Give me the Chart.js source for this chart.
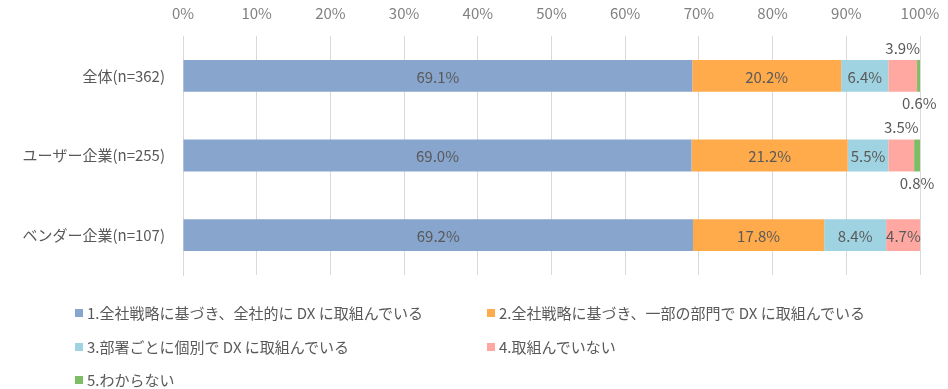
<!DOCTYPE html>
<html>
<head>
<meta charset="utf-8">
<script src="https://cdn.jsdelivr.net/npm/chart.js@4"></script>
<style>
  html, body { margin: 0; padding: 0; background: #fff; }
  body { width: 948px; height: 389px; overflow: hidden; font-family: "Noto Sans CJK JP", "Noto Sans", sans-serif; }
  #wrap { position: absolute; left: 0; top: 0; width: 948px; height: 290px; }
  #legend { position: absolute; left: 0; top: 0; width: 948px; height: 389px; color: #595959; font-size: 15px; }
  #legend .item { position: absolute; display: flex; align-items: center; white-space: nowrap; }
  #legend .box { width: 8px; height: 8px; margin-right: 4px; }
</style>
</head>
<body>
<div id="wrap"><canvas id="chart"></canvas></div>
<div id="legend"></div>
<script>
const categories = ['全体(n=362)', 'ユーザー企業(n=255)', 'ベンダー企業(n=107)'];
const seriesNames = [
  '1.全社戦略に基づき、全社的に DX に取組んでいる',
  '2.全社戦略に基づき、一部の部門で DX に取組んでいる',
  '3.部署ごとに個別で DX に取組んでいる',
  '4.取組んでいない',
  '5.わからない'
];
const seriesAll = [69.1, 69.0, 69.2];
const seriesPart = [20.2, 21.2, 17.8];
const seriesDept = [6.4, 5.5, 8.4];
const seriesNone = [3.9, 3.5, 4.7];
const seriesUnknown = [0.6, 0.8, 0];
const tickLabels = ['0%', '10%', '20%', '30%', '40%', '50%', '60%', '70%', '80%', '90%', '100%'];

const colors = ['#87A5CD', '#FFAB4C', '#9FD3E1', '#FFA8A1', '#7DBD63'];
const seriesValues = [seriesAll, seriesPart, seriesDept, seriesNone, seriesUnknown];

// Draw the value labels on / around each segment
const valueLabels = {
  id: 'valueLabels',
  afterDatasetsDraw(chart) {
    const ctx = chart.ctx;
    ctx.save();
    ctx.font = '15px "Noto Sans CJK JP", sans-serif';
    ctx.fillStyle = '#595959';
    ctx.textAlign = 'center';
    ctx.textBaseline = 'middle';
    chart.data.datasets.forEach((ds, di) => {
      const meta = chart.getDatasetMeta(di);
      meta.data.forEach((bar, i) => {
        const v = ds.data[i];
        if (!v) return;
        const p = bar.getProps(['x', 'y', 'base', 'height'], true);
        const cx = (p.x + p.base) / 2;
        const text = v.toFixed(1) + '%';
        if (v < 1) {
          // tiny segment: label below the bar
          ctx.fillText(text, cx, p.y + p.height / 2 + 12);
        } else if (v < 4.5) {
          // narrow segment: label above the bar
          ctx.fillText(text, cx, p.y - p.height / 2 - 12);
        } else {
          ctx.fillText(text, cx, p.y + 1);
        }
      });
    });
    ctx.restore();
  }
};

const chartCfg = {
  type: 'bar',
  data: {
    labels: categories,
    datasets: seriesNames.map((name, i) => ({
      label: name,
      data: seriesValues[i],
      backgroundColor: colors[i],
      borderWidth: 0,
      barPercentage: 0.4,
      categoryPercentage: 1.0
    }))
  },
  options: {
    indexAxis: 'y',
    responsive: false,
    animation: false,
    layout: { padding: 0 },
    plugins: {
      legend: { display: false },
      tooltip: { enabled: false }
    },
    scales: {
      x: {
        position: 'top',
        stacked: true,
        min: 0,
        max: 100,
        ticks: {
          stepSize: 10,
          padding: 14,
          color: '#808080',
          font: { size: 15, family: '"Noto Sans CJK JP", sans-serif' },
          callback: (v, i) => tickLabels[i]
        },
        grid: { color: '#D9D9D9', drawTicks: false },
        border: { display: false },
        afterFit: (scale) => {
          scale.height = 36;
          scale.paddingLeft = 0;
          scale.paddingRight = 28;
        }
      },
      y: {
        stacked: true,
        ticks: {
          padding: 10,
          color: '#595959',
          font: { size: 15, family: '"Noto Sans CJK JP", sans-serif' }
        },
        grid: { display: false },
        border: { color: '#D9D9D9' },
        afterFit: (scale) => {
          scale.width = 183;
          scale.paddingTop = 0;
          scale.paddingBottom = 15;
        }
      }
    }
  },
  plugins: [valueLabels]
};

const canvas = document.getElementById('chart');
canvas.width = 948;
canvas.height = 290;
const chart = new Chart(canvas, chartCfg);

// Legend in a two-column grid, built from the chart's datasets
const legendPos = [[75, 313], [487, 313], [75, 347], [487, 347], [75, 380]];
const legendEl = document.getElementById('legend');
chart.data.datasets.forEach((ds, i) => {
  const item = document.createElement('div');
  item.className = 'item';
  item.style.left = legendPos[i][0] + 'px';
  item.style.top = (legendPos[i][1] - 11) + 'px';
  item.innerHTML = `<span class="box" style="background:${ds.backgroundColor}"></span><span>${ds.label}</span>`;
  legendEl.appendChild(item);
});
</script>
</body>
</html>
